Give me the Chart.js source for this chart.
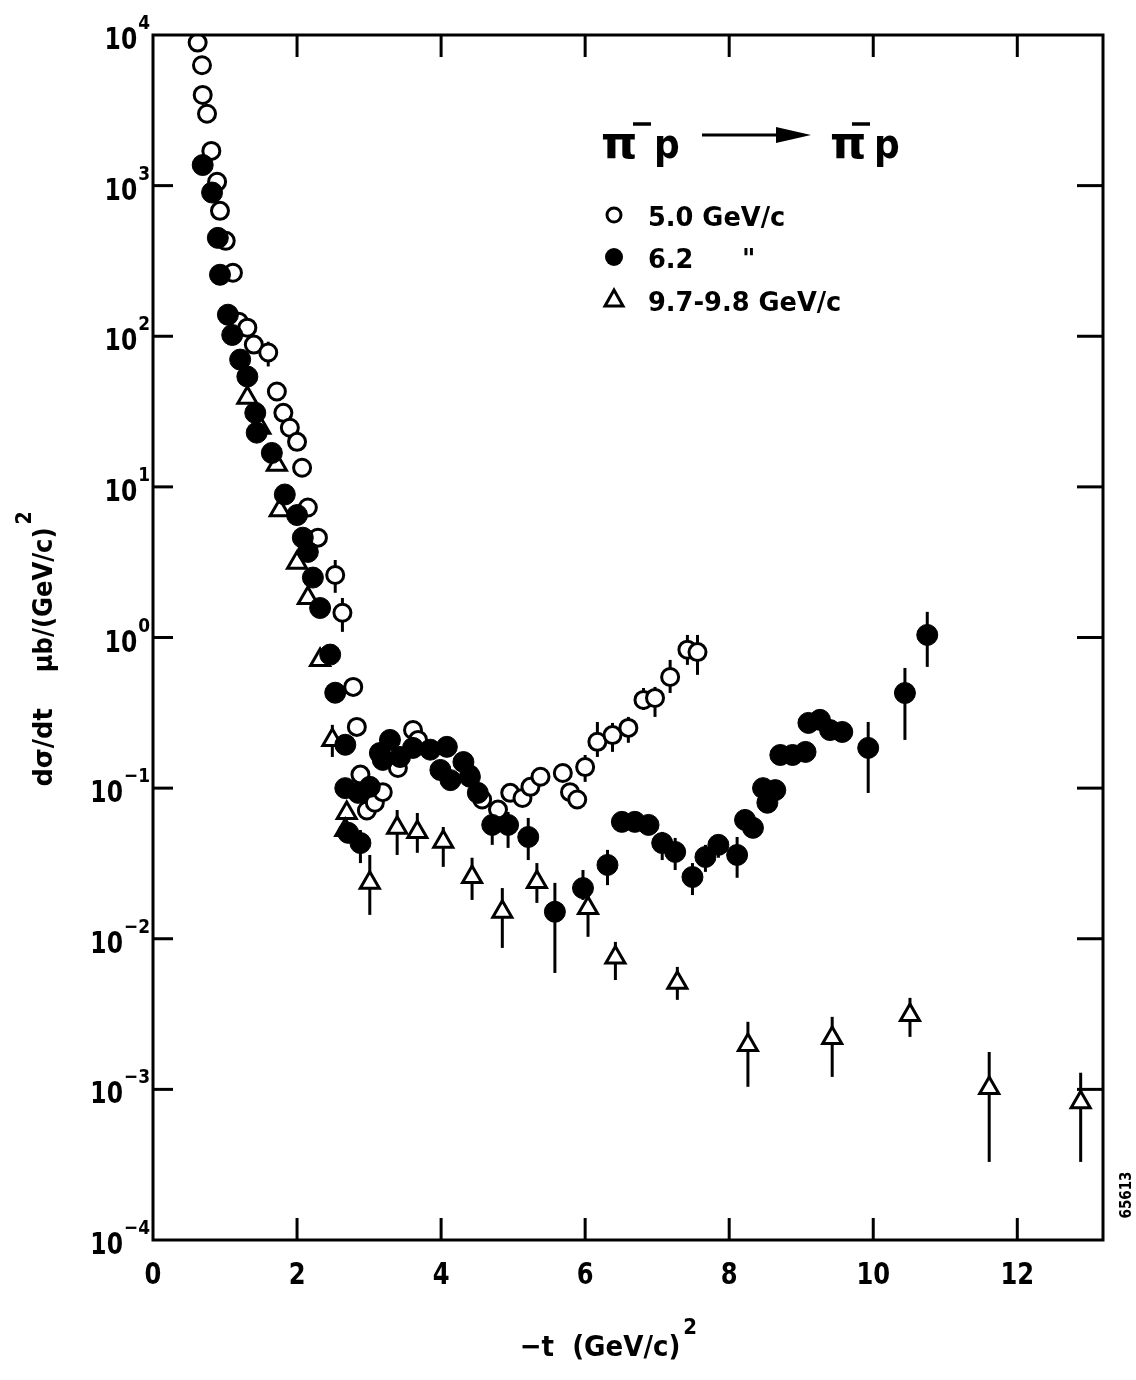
<!DOCTYPE html>
<html>
<head>
<meta charset="utf-8">
<script src="https://cdn.jsdelivr.net/npm/chart.js@4.4.1/dist/chart.umd.min.js"></script>
<style>
  html, body { margin: 0; padding: 0; background: #fff; }
  canvas { display: block; }
</style>
</head>
<body>
<canvas id="c" width="1136" height="1380"></canvas>
<script>
// pi- p -> pi- p elastic, -t in (GeV/c)^2, dsigma/dt in mub/(GeV/c)^2
const _ = null;

// 5.0 GeV/c (open circles)
const t50  = [0.62,0.68,0.69,0.75,0.81,0.89,0.93,1.01,1.11,1.19,1.31,1.40,1.60,1.72,1.81,1.90,2.00,2.07,2.15,2.29,
              2.53,2.63,2.78,2.83,2.88,2.97,3.08,3.19,3.40,3.61,3.68,4.40,4.57,4.79,4.96,5.13,5.24,5.38,5.69,5.79,
              5.89,6.00,6.17,6.38,6.60,6.81,6.97,7.18,7.42,7.56];
const ds50 = [8900,6300,4000,3000,1700,1060,680,430,264,125,114,88,78,43,31,24.7,19.9,13.4,7.3,4.6,
              2.6,1.46,0.47,0.255,0.123,0.071,0.080,0.094,0.136,0.243,0.209,0.123,0.084,0.072,0.093,0.086,0.102,0.119,0.126,0.094,
              0.084,0.138,0.203,0.225,0.251,0.385,0.397,0.547,0.83,0.80];
const lo50 = [_,_,_,_,_,_,_,_,_,_,_,_,63,_,_,_,_,_,_,_,
              1.98,1.09,_,_,_,_,_,_,_,_,_,_,_,_,_,_,_,_,_,_,
              _,0.110,0.161,0.174,0.200,0.330,0.297,0.428,0.658,0.565];
const hi50 = [_,_,_,_,_,_,_,_,_,_,_,_,92,_,_,_,_,_,_,_,
              3.27,1.83,_,_,_,_,_,_,_,_,_,_,_,_,_,_,_,_,_,_,
              _,0.166,0.275,0.271,0.297,0.462,0.470,0.71,1.04,1.04];

// 6.2 GeV/c (filled circles)
const t62  = [0.69,0.82,0.90,0.93,1.04,1.10,1.21,1.31,1.42,1.44,1.65,1.83,2.00,2.08,2.15,2.22,2.32,2.46,2.53,2.67,
              2.67,2.85,3.01,2.71,2.88,3.15,3.19,3.29,3.43,3.61,3.85,4.08,3.99,4.13,4.31,4.40,4.51,4.71,4.93,5.21,
              5.58,5.97,6.31,6.51,6.69,6.88,7.07,7.25,7.49,7.67,7.85,8.11,8.22,8.33,8.47,8.53,8.64,8.71,8.88,9.06,
              9.10,9.26,9.40,9.57,9.93,10.44,10.75];
const ds62 = [1370,900,450,256,139,102,70,54,31,22.9,16.8,8.9,6.5,4.6,3.7,2.5,1.57,0.77,0.43,0.194,
              0.100,0.093,0.102,0.0505,0.0432,0.171,0.154,0.209,0.161,0.185,0.180,0.188,0.132,0.113,0.149,0.119,0.093,0.057,0.057,0.0474,
              0.0151,0.0217,0.0309,0.0597,0.0597,0.057,0.0432,0.0377,0.0257,0.0349,0.042,0.036,0.0615,0.0545,0.100,0.080,0.097,0.166,0.166,0.174,
              0.271,0.284,0.243,0.236,0.185,0.428,1.04];
const lo62 = [_,_,_,_,_,_,_,_,_,_,_,_,_,_,_,_,_,_,_,_,
              _,_,_,_,0.0318,_,_,_,_,_,_,_,_,_,_,_,_,0.042,0.0401,0.0333,
              0.00593,0.0181,0.0227,0.0527,0.0527,0.0505,0.0333,0.0286,0.0195,0.0278,0.0345,0.0254,_,_,_,_,_,_,_,_,
              _,_,_,_,0.0929,0.209,0.638];
const hi62 = [_,_,_,_,_,_,_,_,_,_,_,_,_,_,_,_,_,_,_,_,
              _,_,_,_,0.0527,_,_,_,_,_,_,_,_,_,_,_,_,0.0716,0.0695,0.0634,
              0.0235,0.0286,0.0389,0.0675,0.0675,0.0644,0.0512,0.0467,0.0318,0.042,0.0489,0.0474,_,_,_,_,_,_,_,_,
              _,_,_,_,0.275,0.628,1.48];

// 9.7-9.8 GeV/c (open triangles)
const t97  = [1.31,1.49,1.72,1.76,2.00,2.15,2.32,2.49,2.69,2.67,3.01,3.39,3.67,4.03,4.43,4.85,5.33,6.04,6.42,7.28,
              8.26,9.43,10.51,11.61,12.88];
const ds97 = [39,24.7,14.0,7.0,3.13,1.83,0.71,0.209,0.0684,0.0527,0.0235,0.0545,0.0512,0.044,0.0257,0.0151,0.0238,0.016,0.0075,0.0051,
              0.00197,0.00219,0.00312,0.00102,0.00082];
const lo97 = [_,_,_,_,_,_,_,0.161,_,_,0.0144,0.036,0.0372,0.030,0.0181,0.00869,0.0173,0.0103,0.00532,0.00393,
              0.00104,0.00121,0.00223,0.00033,0.00033];
const hi97 = [_,_,_,_,_,_,_,0.263,_,_,0.036,0.0716,0.0684,0.0552,0.0345,0.0217,0.0318,0.0201,0.00953,0.0065,
              0.00281,0.00303,0.00405,0.00177,0.00129];

const xTicks = [0, 2, 4, 6, 8, 10, 12];
const yExps = [4, 3, 2, 1, 0, -1, -2, -3, -4];
const legendLabels = ['5.0 GeV/c', '6.2', '9.7-9.8 GeV/c'];

const FONT = '"DejaVu Sans", "Liberation Sans", sans-serif';

function pts(ts, vs) { return ts.map((t, i) => ({ x: t, y: vs[i] })); }

// text with optional horizontal squeeze (the original lettering is narrow)
function txt(ctx, s, x, y, size, align, sx) {
  ctx.save();
  ctx.translate(x, y);
  ctx.scale(sx || 1, 1);
  ctx.font = 'bold ' + size + 'px ' + FONT;
  ctx.textAlign = align || 'left';
  ctx.textBaseline = 'alphabetic';
  ctx.fillStyle = '#000';
  ctx.fillText(s, 0, 0);
  ctx.restore();
}
function width(ctx, s, size, sx) {
  ctx.save();
  ctx.font = 'bold ' + size + 'px ' + FONT;
  const w = ctx.measureText(s).width * (sx || 1);
  ctx.restore();
  return w;
}
function seg(ctx, x1, y1, x2, y2) {
  ctx.beginPath(); ctx.moveTo(x1, y1); ctx.lineTo(x2, y2); ctx.stroke();
}

// vertical error bars, drawn under the markers
const errorBars = {
  id: 'errorBars',
  beforeDatasetsDraw(chart) {
    const ctx = chart.ctx;
    ctx.save();
    ctx.strokeStyle = '#000';
    ctx.lineWidth = 3;
    chart.data.datasets.forEach((ds, i) => {
      const meta = chart.getDatasetMeta(i);
      const xs = chart.scales[meta.xAxisID], ys = chart.scales[meta.yAxisID];
      ds.data.forEach((p, j) => {
        if (ds.errLo[j] == null) return;
        const px = xs.getPixelForValue(p.x);
        seg(ctx, px, ys.getPixelForValue(ds.errLo[j]), px, ys.getPixelForValue(ds.errHi[j]));
      });
    });
    ctx.restore();
  }
};

// frame, inward ticks, labels, legend block
const frame = {
  id: 'frame',
  afterDraw(chart) {
    const { ctx, chartArea: a, scales: { x, y } } = chart;
    ctx.save();
    ctx.strokeStyle = '#000';
    ctx.lineWidth = 3;
    ctx.strokeRect(a.left, a.top, a.right - a.left, a.bottom - a.top);

    xTicks.forEach(v => {
      const px = x.getPixelForValue(v);
      if (v > 0) {
        seg(ctx, px, a.bottom, px, a.bottom - 22);
        seg(ctx, px, a.top, px, a.top + 22);
      }
      txt(ctx, String(v), px, a.bottom + 44, 31, 'center', 0.78);
    });

    yExps.forEach(e => {
      const py = y.getPixelForValue(Math.pow(10, e));
      if (e !== 4 && e !== -4) {
        seg(ctx, a.left, py, a.left + 20, py);
        seg(ctx, a.right, py, a.right - 26, py);
      }
      const ex = e < 0 ? '\u2212' + (-e) : String(e);
      const exW = width(ctx, ex, 20, 0.85);
      const right = a.left - 3;
      txt(ctx, ex, right, py - 6, 20, 'right', 0.85);
      txt(ctx, '10', right - exW - 1, py + 14, 30, 'right', 0.78);
    });

    // x title
    const xt = '\u2212t  (GeV/c)';
    const xw = width(ctx, xt, 29, 0.9);
    const xl = 600 - xw / 2;
    txt(ctx, xt, xl, 1356, 29, 'left', 0.9);
    txt(ctx, '2', xl + xw + 3, 1334, 22, 'left', 0.9);

    // y title, rotated
    ctx.save();
    ctx.translate(52, 650);
    ctx.rotate(-Math.PI / 2);
    const p1 = 'd\u03c3/dt', p2 = '\u03bcb/(GeV/c)';
    const w1 = width(ctx, p1, 27, 0.95), w2 = width(ctx, p2, 27, 0.9), gap = 36;
    const total = w1 + gap + w2 + 14;
    let sx = -total / 2;
    txt(ctx, p1, sx, 0, 27, 'left', 0.95);
    txt(ctx, p2, sx + w1 + gap, 0, 27, 'left', 0.9);
    txt(ctx, '2', sx + w1 + gap + w2 + 3, -21, 21, 'left', 0.9);
    ctx.restore();

    // reaction label
    txt(ctx, '\u03c0', 601, 158, 44, 'left', 1.05);
    txt(ctx, 'p', 654, 158, 40, 'left', 0.9);
    ctx.lineWidth = 3.5;
    seg(ctx, 633, 124, 651, 124);
    ctx.lineWidth = 3;
    seg(ctx, 702, 135, 780, 135);
    ctx.beginPath();
    ctx.moveTo(776, 127); ctx.lineTo(811, 135); ctx.lineTo(776, 143); ctx.closePath();
    ctx.fillStyle = '#000'; ctx.fill();
    txt(ctx, '\u03c0', 830, 158, 44, 'left', 1.05);
    txt(ctx, 'p', 874, 158, 40, 'left', 0.9);
    ctx.lineWidth = 3.5;
    seg(ctx, 852, 124, 870, 124);

    // legend markers and texts
    ctx.lineWidth = 3;
    ctx.beginPath(); ctx.arc(614, 215, 7, 0, Math.PI * 2); ctx.stroke();
    ctx.beginPath(); ctx.arc(614, 257, 9, 0, Math.PI * 2); ctx.fill();
    ctx.beginPath();
    ctx.moveTo(614, 290); ctx.lineTo(623, 306); ctx.lineTo(605, 306); ctx.closePath(); ctx.stroke();
    txt(ctx, legendLabels[0], 648, 226, 27, 'left', 0.95);
    txt(ctx, legendLabels[1], 648, 268, 27, 'left', 0.95);
    txt(ctx, '"', 742, 268, 27, 'left', 0.95);
    txt(ctx, legendLabels[2], 648, 311, 27, 'left', 0.95);

    // plate number
    ctx.save();
    ctx.translate(1131, 1195);
    ctx.rotate(-Math.PI / 2);
    txt(ctx, '65613', 0, 0, 15, 'center', 0.9);
    ctx.restore();

    ctx.restore();
  }
};

new Chart(document.getElementById('c'), {
  type: 'scatter',
  data: {
    datasets: [
      {
        label: '5.0 GeV/c', data: pts(t50, ds50), errLo: lo50, errHi: hi50,
        pointStyle: 'circle', pointRadius: 8.5, pointBorderWidth: 3,
        pointBackgroundColor: '#fff', pointBorderColor: '#000', order: 1
      },
      {
        label: '6.2', data: pts(t62, ds62), errLo: lo62, errHi: hi62,
        pointStyle: 'circle', pointRadius: 10.5, pointBorderWidth: 1,
        pointBackgroundColor: '#000', pointBorderColor: '#000', order: 0
      },
      {
        label: '9.7-9.8 GeV/c', data: pts(t97, ds97), errLo: lo97, errHi: hi97,
        pointStyle: 'triangle', pointRadius: 11, pointBorderWidth: 3,
        pointBackgroundColor: '#fff', pointBorderColor: '#000', order: 2
      }
    ]
  },
  options: {
    responsive: false,
    animation: false,
    devicePixelRatio: 1,
    layout: { padding: { left: 153, top: 35, right: 33, bottom: 140 } },
    plugins: { legend: { display: false }, tooltip: { enabled: false } },
    scales: {
      x: { type: 'linear', min: 0, max: 13.19, display: false },
      y: { type: 'logarithmic', min: 1e-4, max: 1e4, display: false }
    }
  },
  plugins: [errorBars, frame]
});
</script>
</body>
</html>
